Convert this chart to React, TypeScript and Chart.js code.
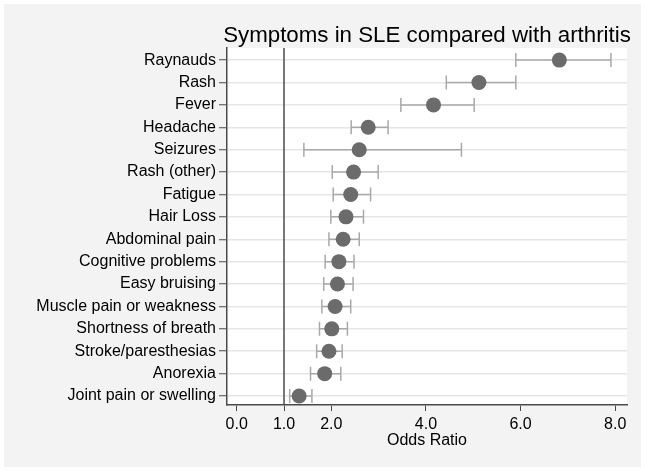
import React, { useEffect, useRef } from 'react';
import { Chart, registerables } from 'chart.js';

Chart.register(...registerables);

const symptoms = [
  'Raynauds', 'Rash', 'Fever', 'Headache', 'Seizures', 'Rash (other)', 'Fatigue', 'Hair Loss',
  'Abdominal pain', 'Cognitive problems', 'Easy bruising', 'Muscle pain or weakness',
  'Shortness of breath', 'Stroke/paresthesias', 'Anorexia', 'Joint pain or swelling',
];
const oddsRatio = [6.82, 5.12, 4.16, 2.78, 2.59, 2.47, 2.41, 2.31, 2.25, 2.16, 2.13, 2.08, 2.01, 1.95, 1.86, 1.32];
const ciLow = [5.9, 4.43, 3.47, 2.42, 1.42, 2.02, 2.04, 1.99, 1.95, 1.87, 1.84, 1.8, 1.75, 1.69, 1.56, 1.12];
const ciHigh = [7.91, 5.9, 5.02, 3.2, 4.75, 2.99, 2.83, 2.68, 2.59, 2.48, 2.46, 2.41, 2.34, 2.23, 2.2, 1.59];
const xTicks = [0, 1, 2, 4, 6, 8];
const referenceLine = 1;
const chartTitle = 'Symptoms in SLE compared with arthritis';
const xTitle = 'Odds Ratio';

const FONT = '"Liberation Sans", Arial, Helvetica, sans-serif';

export default function App() {
  const canvasRef = useRef<HTMLCanvasElement | null>(null);

  useEffect(() => {
    const canvas = canvasRef.current;
    if (!canvas) return;

    const plotBg = {
      id: 'plotBg',
      beforeDraw(chart: any) {
        const { ctx, chartArea } = chart;
        ctx.save();
        ctx.fillStyle = '#ffffff';
        ctx.fillRect(chartArea.left, chartArea.top, chartArea.right - chartArea.left, chartArea.bottom - chartArea.top);
        ctx.restore();
      },
    };

    const overlays = {
      id: 'overlays',
      beforeDatasetsDraw(chart: any) {
        const { ctx, chartArea, scales } = chart;
        const xs = scales.x;
        const ys = scales.y;
        ctx.save();
        const rx = xs.getPixelForValue(referenceLine);
        ctx.strokeStyle = '#4a4a4a';
        ctx.lineWidth = 1.5;
        ctx.beginPath();
        ctx.moveTo(rx, chartArea.top);
        ctx.lineTo(rx, chartArea.bottom);
        ctx.stroke();
        ctx.strokeStyle = '#a9a9a9';
        ctx.lineWidth = 1.5;
        for (let i = 0; i < symptoms.length; i++) {
          const y = ys.getPixelForValue(i);
          const x1 = xs.getPixelForValue(ciLow[i]);
          const x2 = xs.getPixelForValue(ciHigh[i]);
          ctx.beginPath();
          ctx.moveTo(x1, y);
          ctx.lineTo(x2, y);
          ctx.moveTo(x1, y - 7);
          ctx.lineTo(x1, y + 7);
          ctx.moveTo(x2, y - 7);
          ctx.lineTo(x2, y + 7);
          ctx.stroke();
        }
        ctx.restore();
      },
      afterDraw(chart: any) {
        const { ctx, chartArea } = chart;
        ctx.save();
        ctx.fillStyle = '#000000';
        ctx.font = `22.3px ${FONT}`;
        ctx.textAlign = 'center';
        ctx.textBaseline = 'alphabetic';
        ctx.fillText(chartTitle, (chartArea.left + chartArea.right) / 2, 38);
        ctx.restore();
      },
    };

    const chart = new Chart(canvas, {
      type: 'scatter',
      data: {
        datasets: [
          {
            data: oddsRatio.map((v, i) => ({ x: v, y: i })),
            backgroundColor: '#6b6b6b',
            borderWidth: 0,
            pointRadius: 7.5,
            pointHoverRadius: 7.5,
          },
        ],
      },
      options: {
        responsive: false,
        animation: false,
        devicePixelRatio: 1,
        events: [],
        layout: { padding: { top: 44, right: 14, bottom: 0, left: 0 } },
        plugins: {
          legend: { display: false },
          tooltip: { enabled: false },
          title: { display: false },
        },
        scales: {
          x: {
            type: 'linear',
            min: -0.205,
            max: 8.25,
            afterBuildTicks: (scale: any) => {
              scale.ticks = xTicks.map((v) => ({ value: v }));
            },
            afterFit: (scale: any) => {
              scale.height = 62;
            },
            ticks: {
              color: '#000000',
              font: { family: FONT, size: 16 },
              padding: 4,
              maxRotation: 0,
              autoSkip: false,
              callback: (v: any) => Number(v).toFixed(1),
            },
            grid: {
              drawOnChartArea: false,
              drawTicks: true,
              tickLength: 6,
              tickColor: '#4a4a4a',
              tickWidth: 1,
            },
            border: { color: '#4a4a4a', width: 1.5 },
            title: {
              display: true,
              text: xTitle,
              color: '#000000',
              font: { family: FONT, size: 16 },
              padding: { top: 0, bottom: 17 },
            },
          },
          y: {
            type: 'linear',
            reverse: true,
            min: -0.54,
            max: 15.4,
            afterBuildTicks: (scale: any) => {
              scale.ticks = symptoms.map((_, i) => ({ value: i }));
            },
            afterFit: (scale: any) => {
              scale.width = 223;
            },
            ticks: {
              color: '#000000',
              font: { family: FONT, size: 16 },
              padding: 3,
              autoSkip: false,
              callback: (v: any) => symptoms[Math.round(Number(v))] ?? '',
            },
            grid: {
              color: '#e6e6e6',
              lineWidth: 1.5,
              drawTicks: true,
              tickLength: 8,
              tickColor: '#4a4a4a',
              tickWidth: 1,
            },
            border: { color: '#4a4a4a', width: 1.5 },
          },
        },
      },
      plugins: [plotBg, overlays],
    } as any);

    return () => chart.destroy();
  }, []);

  return (
    <div style={{ position: 'fixed', left: 0, top: 0, width: 647, height: 473, background: '#ffffff' }}>
      <canvas
        ref={canvasRef}
        width={637}
        height={463}
        style={{ position: 'absolute', left: 4, top: 4, width: 637, height: 463, background: '#f3f3f3', display: 'block' }}
      />
    </div>
  );
}
